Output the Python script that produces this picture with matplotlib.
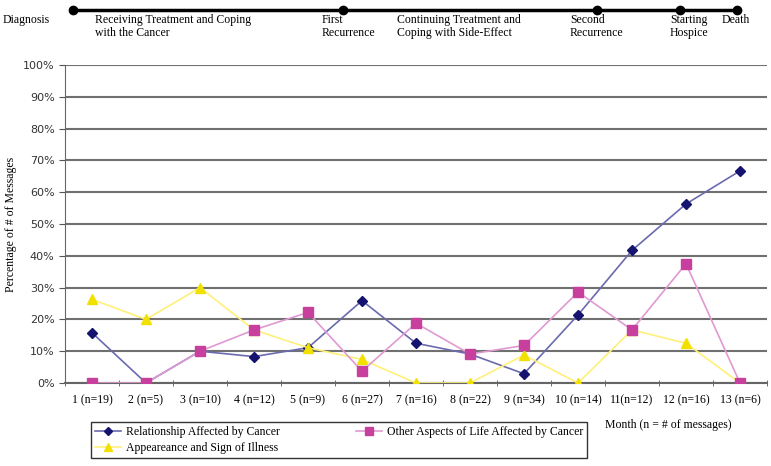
import numpy as np
from matplotlib import pyplot as plt

months = ["1 (n=19)", "2 (n=5)", "3 (n=10)", "4 (n=12)", "5 (n=9)", "6 (n=27)", "7 (n=16)",
          "8 (n=22)", "9 (n=34)", "10 (n=14)", "11(n=12)", "12 (n=16)", "13 (n=6)"]
relationship = [15.8, 0, 10.0, 8.3, 11.1, 25.9, 12.5, 9.1, 2.9, 21.4, 41.7, 56.3, 66.7]
other_aspects = [0, 0, 10.0, 16.7, 22.2, 3.7, 18.8, 9.1, 11.8, 28.6, 16.7, 37.5, 0]
appearance = [26.3, 20.0, 30.0, 16.7, 11.1, 7.4, 0, 0, 8.8, 0, 16.7, 12.5, 0]

stages = ["Diagnosis", "Receiving Treatment and Coping\nwith the Cancer", "First\nRecurrence",
          "Continuing Treatment and\nCoping with Side-Effect", "Second\nRecurrence",
          "Starting\nHospice", "Death"]
stage_x = [3, 95, 322, 397, 570, 670, 722]
event_x = [73, 343, 597, 680, 737]

serif = "Liberation Serif"

fig = plt.figure(figsize=(7.71, 4.66), dpi=100)
ax = fig.add_axes([65 / 771, 83 / 466, 702 / 771, 318 / 466])

x = np.arange(len(months))
ax.plot(x, relationship, color="#6a6aae", lw=1.2, marker="D", ms=5.5,
        markerfacecolor="#141470", markeredgecolor="#141470", label="Relationship Affected by Cancer", zorder=3)
ax.plot(x, appearance, color="#fff07a", lw=1.2, marker="^", ms=7.5,
        markerfacecolor="#f2e000", markeredgecolor="#f2e000", label="Appeareance and Sign of Illness", zorder=3)
ax.plot(x, other_aspects, color="#e099d2", lw=1.2, marker="s", ms=6.5,
        markerfacecolor="#c8409e", markeredgecolor="#c8409e", label="Other Aspects of Life Affected by Cancer", zorder=3)

ax.set_xlim(-0.5, len(months) - 0.5)
ax.set_ylim(0, 100)
ax.set_yticks(np.arange(0, 101, 10))
ax.set_yticklabels([f"{v}%" for v in range(0, 101, 10)], fontsize=8, color="#333333")
ax.set_xticks(x)
ax.set_xticklabels(months, fontsize=8.5, family=serif)
ax.set_xticks(np.arange(-0.5, len(months), 1), minor=True)
ax.tick_params(axis="x", which="major", length=0, pad=8)
ax.tick_params(axis="x", which="minor", length=4, direction="inout", color="#555555")
ax.tick_params(axis="y", length=4, direction="out", color="#555555")
ax.grid(axis="y", color="#707070", lw=1.5)
ax.set_axisbelow(True)
for s in ["top", "right"]:
    ax.spines[s].set_visible(False)
ax.spines["left"].set_color("#666666")
ax.spines["bottom"].set_color("#666666")
ax.spines["bottom"].set_linewidth(1.5)
ax.set_ylabel("Percentage of # of Messages", fontsize=8.5, family=serif, labelpad=4)

leg = fig.legend(loc="upper left", bbox_to_anchor=(85 / 771, 1 - 416 / 466), ncol=2,
                 prop={"family": serif, "size": 8.5}, frameon=True, fancybox=False,
                 edgecolor="black", columnspacing=6.5, handlelength=2.2, borderpad=0.35,
                 labelspacing=0.35, markerscale=0.8, handletextpad=0.4)
leg.get_frame().set_linewidth(1.0)
fig.text(605 / 771, 1 - 425 / 466, "Month (n = # of messages)", fontsize=8.5, family=serif,
         va="center")

# timeline across the top
top = fig.add_axes([0, 0, 1, 1], zorder=-1)
top.set_xlim(0, 771)
top.set_ylim(466, 0)
top.axis("off")
top.plot([event_x[0], event_x[-1]], [10, 10], color="black", lw=2.5)
top.plot(event_x, [10] * len(event_x), "o", color="black", ms=6)
for label, sx in zip(stages, stage_x):
    top.text(sx, 14, label, fontsize=8.5, family=serif, va="top", ha="left", linespacing=1.15)

fig.savefig("out.png", dpi=100)
